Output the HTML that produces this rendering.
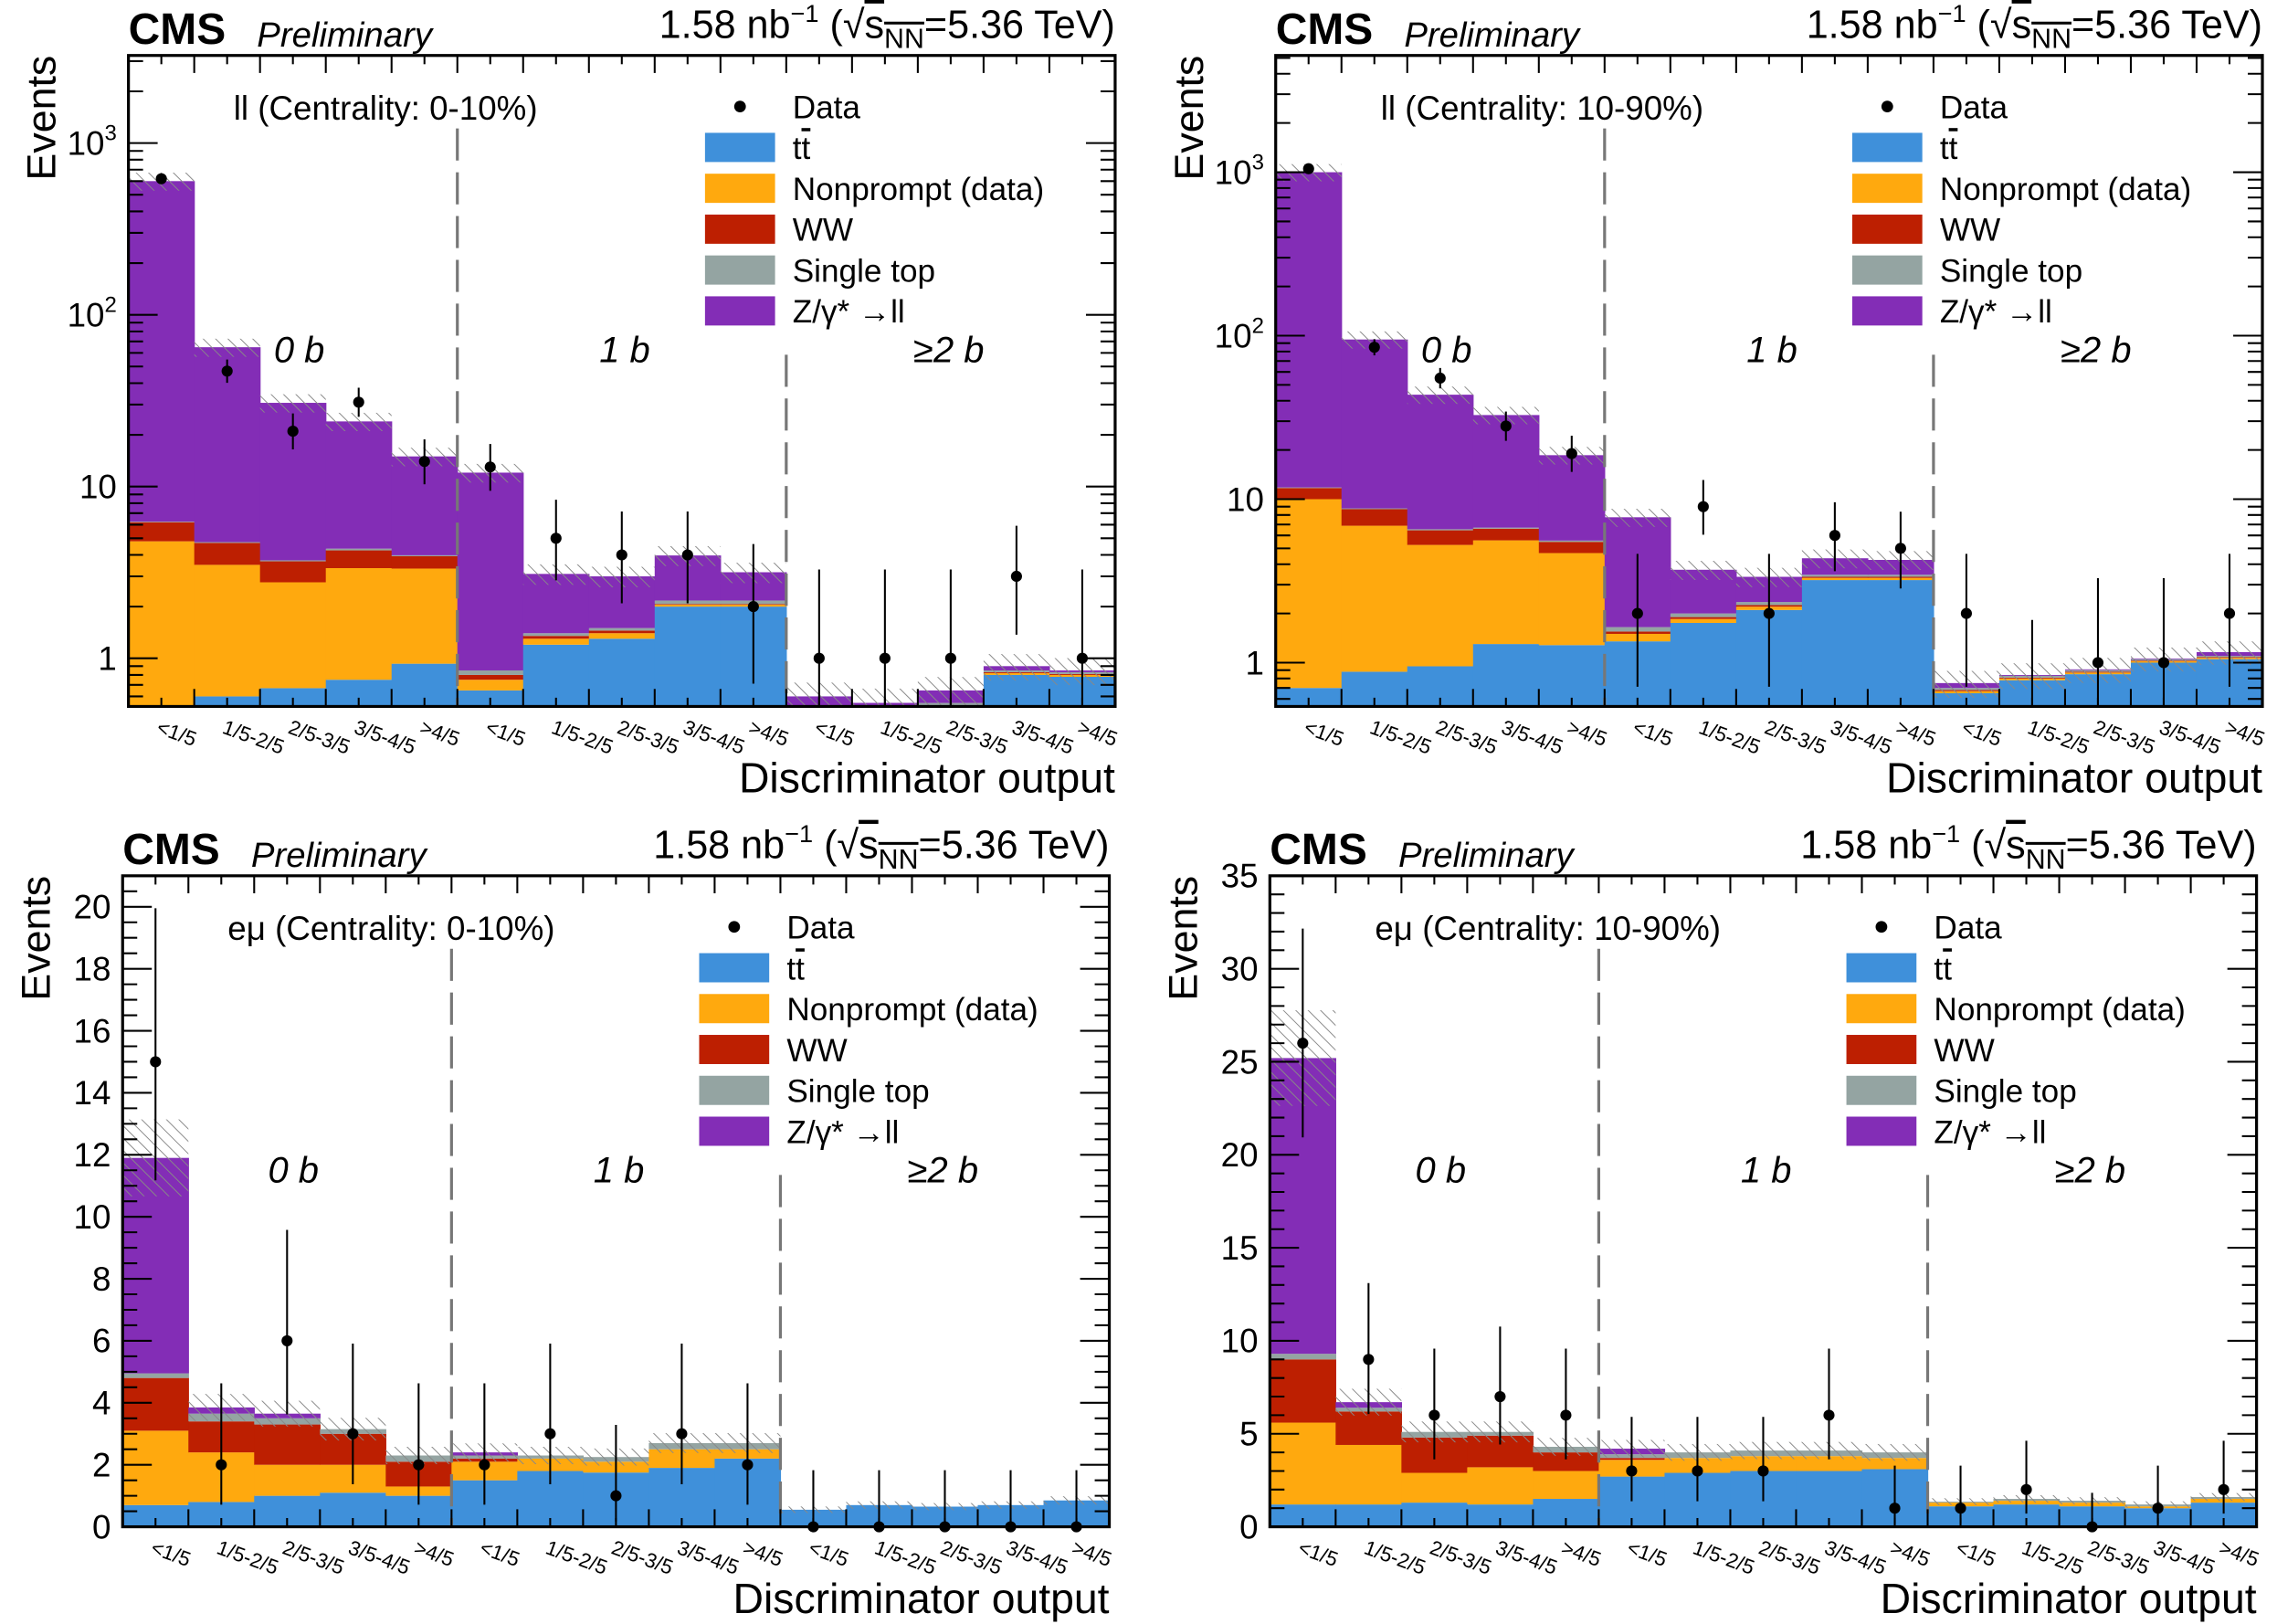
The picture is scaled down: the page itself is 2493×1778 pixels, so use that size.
<!DOCTYPE html>
<html><head><meta charset="utf-8"><style>
html,body{margin:0;padding:0;background:#fff}
svg{display:block}
text{font-family:"Liberation Sans",sans-serif;fill:#000}
</style></head><body>
<svg id="c" xmlns="http://www.w3.org/2000/svg" width="2493" height="1778" viewBox="0 0 1560 1112.6">
<defs>
<pattern id="hatch" patternUnits="userSpaceOnUse" width="6" height="6" patternTransform="rotate(-45)">
<line x1="0" y1="0" x2="0" y2="6" stroke="#888" stroke-width="1.2"/>
</pattern>
</defs>
</svg>
<script>
// ---- data: ll 0-10% ----
const tl_tt=[0.3,0.6,0.67,0.75,0.93,0.65,1.2,1.3,2.0,2.0,0.45,0.45,0.5,0.8,0.78];
const tl_np=[4.5,2.9,2.1,2.6,2.4,0.1,0.1,0.1,0.05,0.05,0.02,0.02,0.02,0.02,0.02];
const tl_ww=[1.4,1.2,0.9,0.9,0.6,0.05,0.05,0.05,0.02,0.02,0.01,0.01,0.01,0.01,0.01];
const tl_st=[0.05,0.05,0.05,0.1,0.05,0.05,0.05,0.05,0.1,0.1,0.02,0.02,0.02,0.02,0.02];
const tl_dy=[594,60,27,19.6,11,11.2,1.7,1.5,1.8,1.0,0.1,0.05,0.1,0.05,0.02];
const tl_data=[620,47,21,31,14,13,5,4,4,2,1,1,1,3,1];
// ---- data: ll 10-90% ----
const tr_tt=[0.7,0.88,0.95,1.3,1.28,1.35,1.75,2.1,3.2,3.2,0.65,0.78,0.85,1.0,1.05];
const tr_np=[9.3,6.0,4.3,4.3,3.4,0.15,0.1,0.1,0.1,0.1,0.02,0.02,0.02,0.02,0.02];
const tr_ww=[1.7,1.8,1.2,1.0,0.8,0.05,0.05,0.05,0.05,0.05,0.01,0.01,0.01,0.01,0.01];
const tr_st=[0.1,0.1,0.1,0.1,0.1,0.1,0.1,0.1,0.1,0.1,0.02,0.02,0.02,0.02,0.02];
const tr_dy=[988,86,37,26,13,6.1,1.7,1.0,0.9,0.8,0.05,0.01,0.01,0.01,0.06];
const tr_data=[1050,85,55,28,19,2,9,2,6,5,2,0,1,1,2];
// ---- data: emu 0-10% ----
const bl_tt=[0.7,0.8,1.0,1.1,1.0,1.5,1.8,1.75,1.9,2.2,0.55,0.7,0.65,0.7,0.85];
const bl_np=[2.4,1.6,1.0,0.9,0.3,0.6,0.4,0.35,0.6,0.3,0,0,0,0,0];
const bl_ww=[1.7,1.0,1.3,1.0,0.8,0.1,0,0,0,0,0,0,0,0,0];
const bl_st=[0.15,0.25,0.2,0.15,0.2,0.1,0.1,0.15,0.2,0.2,0,0,0,0,0];
const bl_dy=[6.95,0.2,0.15,0,0,0.1,0,0,0,0,0,0,0,0,0];
const bl_data=[15,2,6,3,2,2,3,1,3,2,0,0,0,0,0];
// ---- data: emu 10-90% ----
const br_tt=[1.2,1.2,1.3,1.2,1.5,2.7,2.9,3.0,3.0,3.1,1.1,1.2,1.1,1.0,1.3];
const br_np=[4.4,3.2,1.6,2.0,1.5,0.9,0.8,0.8,0.8,0.6,0.2,0.2,0.2,0.1,0.2];
const br_ww=[3.4,1.8,1.9,1.7,1.0,0.1,0,0,0,0,0,0,0,0,0];
const br_st=[0.3,0.2,0.3,0.2,0.3,0.2,0.3,0.3,0.3,0.3,0.05,0.1,0.1,0.1,0.1];
const br_dy=[15.9,0.3,0,0,0,0.3,0,0,0,0,0,0,0,0,0];
const br_data=[26,9,6,7,6,3,3,3,6,1,1,2,0,1,2];
const binLabels=["<1/5","1/5-2/5","2/5-3/5","3/5-4/5",">4/5"];
const regionLabels=["0 b","1 b","\u22652 b"];
const logTicks=[1,10,100,1000];
const blTicks=[0,2,4,6,8,10,12,14,16,18,20];
const brTicks=[0,5,10,15,20,25,30,35];

const NS="http://www.w3.org/2000/svg";
const svg=document.getElementById('c');
const COLORS=["#3f90da","#ffa90e","#bd1f01","#94a4a2","#832db6"];
function el(tag,attrs,parent,txt){const e=document.createElementNS(NS,tag);for(const k in attrs)e.setAttribute(k,attrs[k]);if(txt!==undefined)e.textContent=txt;(parent||svg).appendChild(e);return e;}
function garwood(n){const lo=n===0?0:n*Math.pow(1-1/(9*n)-1/(3*Math.sqrt(n)),3);const m=n+1;const hi=m*Math.pow(1-1/(9*m)+1/(3*Math.sqrt(m)),3);return [lo,hi];}

function panel(P){
  const g=el('g',{});
  
  
  const x0=P.x0,x1=P.x0+676,y0=P.y0,y1=P.y0+446,W=676,H=446;
  const nb=15,bw=W/nb;
  let Y;
  if(P.log){const a=P.lmin,b=P.lmax;Y=v=>{const vv=Math.max(v,1e-6);let y=y1-(Math.log10(vv)-a)/(b-a)*H;return Math.min(Math.max(y,y0),y1);};}
  else{Y=v=>Math.min(Math.max(y1-v/P.max*H,y0),y1);}
  const X=i=>x0+i*bw;
  const comps=[P.tt,P.np,P.ww,P.st,P.dy];
  const cname=['ttbar','nonprompt','ww','single-top','dy'];
  const tot=[];
  for(let i=0;i<nb;i++){
    let c=0;
    for(let k=0;k<5;k++){
      const v=comps[k][i];const lo=c;c+=v;
      if(v<=0)continue;
      const yt=Y(c),yb=Y(lo);
      if(yb-yt<=0)continue;
      const r=el('rect',{x:X(i),y:yt,width:bw+0.4,height:yb-yt,fill:COLORS[k]},g);
      
      
    }
    tot.push(c);
  }
  for(let i=0;i<nb;i++){
    const u=P.unc*tot[i]+0.05;
    const yt=Y(tot[i]+u),yb=Y(Math.max(tot[i]-u,1e-6));
    const r=el('rect',{x:X(i),y:yt,width:bw,height:Math.max(yb-yt,0),fill:'url(#hatch)'},g);
    
    
  }
  [[5,50],[10,205]].forEach(([b,st])=>{
    const l=el('line',{x1:X(b),x2:X(b),y1:y0+st,y2:y1,stroke:'#777','stroke-width':2,'stroke-dasharray':'22,8'},g);
    
    
  });
  for(let i=0;i<nb;i++){
    const n=P.data[i];const [lo,hi]=garwood(n);const cx=X(i)+bw/2;
    const e=el('line',{x1:cx,x2:cx,y1:Y(hi),y2:n>0?Y(Math.max(lo,1e-6)):y1,stroke:'#000','stroke-width':1.3},g);
    
    
    if(n>0||!P.log){
      const yy=Y(n);
      if(yy<y1||!P.log){const p=el('circle',{cx:cx,cy:yy,r:3.8,fill:'#000'},g);
      
      }
    }
  }
  const f=el('rect',{x:x0,y:y0,width:W,height:H,fill:'none',stroke:'#000','stroke-width':2},g);
  
  
  for(let i=0;i<=nb*2;i++){
    const x=x0+i*bw/2;const L=i%2===0?12:6;
    el('line',{x1:x,x2:x,y1:y1,y2:y1-L,stroke:'#000','stroke-width':1.3},g);
    el('line',{x1:x,x2:x,y1:y0,y2:y0+L,stroke:'#000','stroke-width':1.3},g);
  }
  for(let i=0;i<nb;i++){
    const lx=X(i)+bw/2-4,ly=y1+18;
    const t=el('text',{x:lx,y:ly,'font-size':14,transform:`rotate(20 ${lx} ${ly})`},g,binLabels[i%5]);
    
    
  }
  if(P.log){
    for(let d=Math.floor(P.lmin);d<=Math.ceil(P.lmax);d++){
      for(let m=1;m<10;m++){
        const v=m*Math.pow(10,d);const lv=Math.log10(v);
        if(lv<P.lmin||lv>P.lmax)continue;
        const y=y1-(lv-P.lmin)/(P.lmax-P.lmin)*H;const L=m===1?20:10;
        el('line',{x1:x0,x2:x0+L,y1:y,y2:y,stroke:'#000','stroke-width':1.3},g);
        el('line',{x1:x1,x2:x1-L,y1:y,y2:y,stroke:'#000','stroke-width':1.3},g);
      }
    }
    logTicks.forEach(v=>{
      const y=Y(v);const t=el('text',{x:x0-8,y:y+8,'font-size':23,'text-anchor':'end'},g);
      
      
      const e=Math.round(Math.log10(v));
      if(e===0)t.textContent='1';else if(e===1)t.textContent='10';
      else{el('tspan',{},t,'10');el('tspan',{dy:-10,'font-size':15},t,String(e));}
    });
  } else {
    const step=P.ticks[1]-P.ticks[0];const minor=step/(step===5?5:4);
    for(let v=0;v<=P.max+1e-6;v+=minor){
      const y=Y(v);const major=Math.abs(v/step-Math.round(v/step))<1e-6;const L=major?20:10;
      el('line',{x1:x0,x2:x0+L,y1:y,y2:y,stroke:'#000','stroke-width':1.3},g);
      el('line',{x1:x1,x2:x1-L,y1:y,y2:y,stroke:'#000','stroke-width':1.3},g);
    }
    P.ticks.forEach(v=>{
      const t=el('text',{x:x0-8,y:Y(v)+8,'font-size':23,'text-anchor':'end'},g,String(v));
      
      
    });
  }
  const yt=el('text',{x:0,y:0,'font-size':28,'text-anchor':'end',transform:`translate(${x0-50},${y0}) rotate(-90)`},g,'Events');
  
  
  const xt=el('text',{x:x1,y:y1+59,'font-size':29,'text-anchor':'end'},g,'Discriminator output');
  
  
  const cms=el('text',{x:x0,y:y0-8,'font-size':30,'font-weight':'bold'},g,'CMS');
  
  
  const pre=el('text',{x:x0+88,y:y0-6,'font-size':24,'font-style':'italic'},g,'Preliminary');
  
  
  const lum=el('text',{x:x1,y:y0-12,'font-size':27,'text-anchor':'end'},g);
  
  
  el('tspan',{},lum,'1.58 nb');el('tspan',{dy:-11,'font-size':17},lum,'\u22121');
  el('tspan',{dy:11},lum,' (\u221A');el('tspan',{'text-decoration':'overline'},lum,'s');
  el('tspan',{dy:7,'font-size':19,'text-decoration':'overline'},lum,'NN');el('tspan',{dy:-7},lum,'=5.36 TeV)');
  const rg=el('text',{x:x0+72,y:y0+44,'font-size':23},g,P.region);
  
  
  [x0+117,x0+340,x0+562].forEach((x,i)=>{
    const t=el('text',{x:x,y:y0+210,'font-size':25,'font-style':'italic','text-anchor':'middle'},g,regionLabels[i]);
    
    
  });
  const lx=x0+395,ly=y0+35;
  const names=['Data','tt','Nonprompt (data)','WW','Single top','Z/\u03B3* \u2192ll'];
  for(let k=0;k<6;k++){
    const yy=ly+k*28;
    const lg=el('g',{},g);
    
    
    if(k===0)el('circle',{cx:lx+24,cy:yy,r:4,fill:'#000'},lg);
    else el('rect',{x:lx,y:yy-10,width:48,height:20,fill:COLORS[k-1]},lg);
    if(k===1){
      const t=el('text',{x:lx+60,y:yy+8,'font-size':22},lg);
      el('tspan',{},t,'t');el('tspan',{'text-decoration':'overline'},t,'t');
    } else el('text',{x:lx+60,y:yy+8,'font-size':22},lg,names[k]);
  }
}
panel({name:'panel-ll-central',x0:88,y0:38,log:true,lmin:-0.2805,lmax:3.51,tt:tl_tt,np:tl_np,ww:tl_ww,st:tl_st,dy:tl_dy,data:tl_data,unc:0.12,region:'ll (Centrality: 0-10%)'});
panel({name:'panel-ll-peripheral',x0:874,y0:38,log:true,lmin:-0.268,lmax:3.714,tt:tr_tt,np:tr_np,ww:tr_ww,st:tr_st,dy:tr_dy,data:tr_data,unc:0.12,region:'ll (Centrality: 10-90%)'});
panel({name:'panel-emu-central',x0:84,y0:600,log:false,max:21,ticks:blTicks,tt:bl_tt,np:bl_np,ww:bl_ww,st:bl_st,dy:bl_dy,data:bl_data,unc:0.1,region:'e\u03BC (Centrality: 0-10%)'});
panel({name:'panel-emu-peripheral',x0:870,y0:600,log:false,max:35,ticks:brTicks,tt:br_tt,np:br_np,ww:br_ww,st:br_st,dy:br_dy,data:br_data,unc:0.1,region:'e\u03BC (Centrality: 10-90%)'});
</script>
</body></html>
